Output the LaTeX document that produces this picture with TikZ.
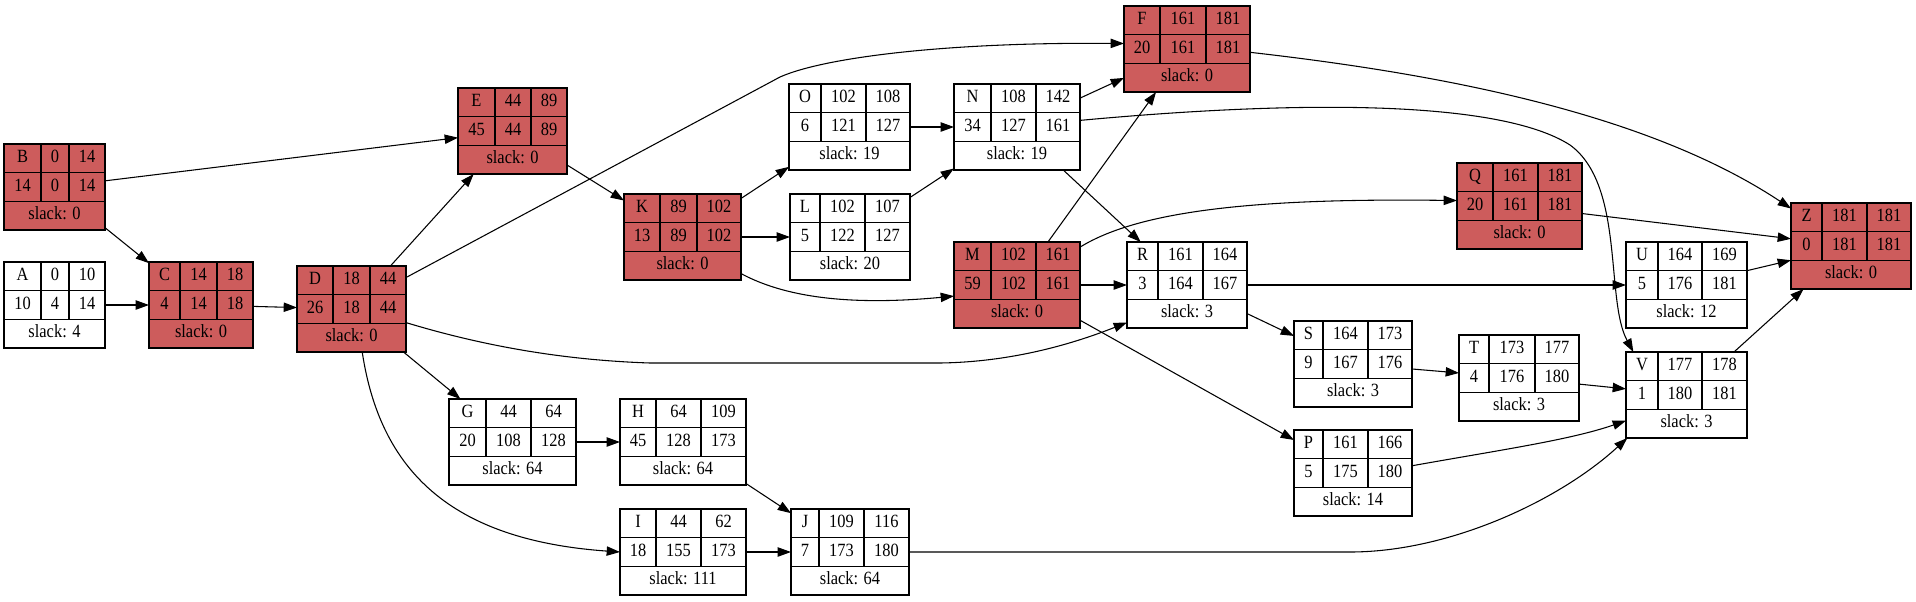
\documentclass[tikz,border=0pt]{standalone}
\usepackage{fontspec}
\setmainfont{Liberation Serif}[FakeStretch=0.88]
\usetikzlibrary{arrows.meta,fit}
\definecolor{crit}{HTML}{CD5C5C}
\tikzset{
  recbox/.style={draw=black, line width=0.8pt, inner sep=0pt, outer sep=0pt},
  recline/.style={draw=black, line width=0.8pt},
  cell/.style={inner sep=0pt, font=\fontsize{14pt}{16pt}\selectfont, text height=1.6ex, text depth=0.25ex},
  conn/.style={draw=black, line width=0.8pt, -{Triangle[length=10pt,width=7pt]}},
}
\newcommand\recnode[7]{\def\recN{#1}\def\recXa{#2}\def\recY{#3}\def\recCa{#4}\def\recCb{#5}\def\recXb{#6}\def\recF{#7}\recbody}
\newcommand\recbody[7]{%
  \node[recbox, fill=\recF, fit={(\recXa,\recY) (\recXb,\recY+86)}] (\recN) {};
  \draw[recline] (\recXa,\recY+28.67) -- (\recXb,\recY+28.67)
    (\recXa,\recY+57.33) -- (\recXb,\recY+57.33)
    (\recCa,\recY) -- (\recCa,\recY+57.33)
    (\recCb,\recY) -- (\recCb,\recY+57.33);
  \node[cell] (\recN-n) at ({(\recXa+\recCa)/2},\recY+14.33) {#1};
  \node[cell] (\recN-es) at ({(\recCa+\recCb)/2},\recY+14.33) {#2};
  \node[cell] (\recN-ef) at ({(\recCb+\recXb)/2},\recY+14.33) {#3};
  \node[cell] (\recN-d) at ({(\recXa+\recCa)/2},\recY+43) {#4};
  \node[cell] (\recN-ls) at ({(\recCa+\recCb)/2},\recY+43) {#5};
  \node[cell] (\recN-lf) at ({(\recCb+\recXb)/2},\recY+43) {#6};
  \node[cell] (\recN-s) at ({(\recXa+\recXb)/2},\recY+71.67) {slack: #7};
}
\begin{document}
\begin{tikzpicture}[x=0.75pt,y=-0.75pt]
\useasboundingbox (0,0) rectangle (1916,601);
\recnode{B}{4}{144}{41}{69}{105}{crit}{B}{0}{14}{14}{0}{14}{0}
\recnode{A}{4}{262}{41}{69}{105}{white}{A}{0}{10}{10}{4}{14}{4}
\recnode{C}{149}{262}{180}{217}{253}{crit}{C}{14}{18}{4}{14}{18}{0}
\recnode{D}{297}{266}{333}{370}{406}{crit}{D}{18}{44}{26}{18}{44}{0}
\recnode{E}{458}{88}{495}{531}{567}{crit}{E}{44}{89}{45}{44}{89}{0}
\recnode{F}{1124}{6}{1160}{1206}{1250}{crit}{F}{161}{181}{20}{161}{181}{0}
\recnode{K}{624}{194}{660}{697}{741}{crit}{K}{89}{102}{13}{89}{102}{0}
\recnode{O}{789}{84}{821}{866}{910}{white}{O}{102}{108}{6}{121}{127}{19}
\recnode{L}{790}{194}{820}{865}{910}{white}{L}{102}{107}{5}{122}{127}{20}
\recnode{N}{954}{84}{991}{1036}{1080}{white}{N}{108}{142}{34}{127}{161}{19}
\recnode{M}{954}{242}{991}{1036}{1080}{crit}{M}{102}{161}{59}{102}{161}{0}
\recnode{R}{1127}{242}{1158}{1203}{1247}{white}{R}{161}{164}{3}{164}{167}{3}
\recnode{Q}{1457}{163}{1493}{1538}{1582}{crit}{Q}{161}{181}{20}{161}{181}{0}
\recnode{Z}{1791}{203}{1822}{1867}{1911}{crit}{Z}{181}{181}{0}{181}{181}{0}
\recnode{U}{1626}{242}{1658}{1702}{1747}{white}{U}{164}{169}{5}{176}{181}{12}
\recnode{S}{1294}{321}{1323}{1368}{1412}{white}{S}{164}{173}{9}{167}{176}{3}
\recnode{T}{1459}{335}{1489}{1535}{1579}{white}{T}{173}{177}{4}{176}{180}{3}
\recnode{V}{1626}{352}{1658}{1702}{1747}{white}{V}{177}{178}{1}{180}{181}{3}
\recnode{P}{1294}{430}{1323}{1368}{1412}{white}{P}{161}{166}{5}{175}{180}{14}
\recnode{G}{449}{399}{486}{531}{576}{white}{G}{44}{64}{20}{108}{128}{64}
\recnode{H}{620}{399}{656}{701}{746}{white}{H}{64}{109}{45}{128}{173}{64}
\recnode{I}{620}{509}{656}{701}{746}{white}{I}{44}{62}{18}{155}{173}{111}
\recnode{J}{791}{509}{819}{864}{909}{white}{J}{109}{116}{7}{173}{180}{64}
% connectors
\draw[conn] (B) -- (E);
\draw[conn] (B) -- (C);
\draw[conn] (A) -- (C);
\draw[conn] (C) -- (D);
\draw[conn] (D) -- (E);
\draw[conn] (D.30) -- (780,77) .. controls (825,57) and (950,42) .. (F.175);
\draw[conn] (D.-14) .. controls (480,345) and (560,360) .. (650,363) -- (940,363) .. controls (1010,362) and (1070,345) .. (R.212);
\draw[conn] (D) -- (G);
\draw[conn] (D.-76) .. controls (380,470) and (450,540) .. (I.west);
\draw[conn] (E) -- (K);
\draw[conn] (K) -- (O);
\draw[conn] (K) -- (L);
\draw[conn] (K.-32) .. controls (790,300) and (860,305) .. (M.190);
\draw[conn] (O) -- (N);
\draw[conn] (L) -- (N);
\draw[conn] (N) -- (F);
\draw[conn] (N.6) .. controls (1300,100) and (1500,100) .. (1570,145) .. controls (1625,185) and (1605,300) .. (V.141);
\draw[conn] (N) -- (R);
\draw[conn] (M) -- (F);
\draw[conn] (M.31) .. controls (1140,210) and (1260,198) .. (Q.175);
\draw[conn] (M) -- (R);
\draw[conn] (M) -- (P);
\draw[conn] (R) -- (U);
\draw[conn] (R) -- (S);
\draw[conn] (S) -- (T);
\draw[conn] (T) -- (V);
\draw[conn] (P.7) .. controls (1500,450) and (1570,440) .. (V.203);
\draw[conn] (J.east) -- (1350,552) .. controls (1450,552) and (1560,500) .. (V.216);
\draw[conn] (G) -- (H);
\draw[conn] (H) -- (J);
\draw[conn] (I) -- (J);
\draw[conn] (F.-3) .. controls (1450,75) and (1650,115) .. (Z.148);
\draw[conn] (Q) -- (Z);
\draw[conn] (U) -- (Z);
\draw[conn] (V) -- (Z);
\end{tikzpicture}
\end{document}
